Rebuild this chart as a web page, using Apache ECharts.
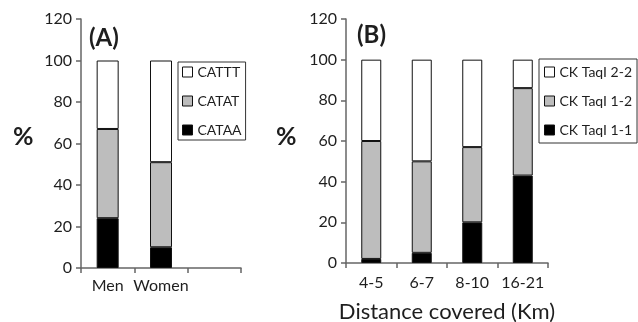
<!DOCTYPE html>
<html>
<head>
<meta charset="utf-8">
<script src="https://cdn.jsdelivr.net/npm/echarts@6/dist/echarts.min.js"></script>
<style>
  html, body { margin: 0; padding: 0; background: #fff; }
  #chart { width: 638px; height: 322px; }
</style>
</head>
<body>
<div id="chart"></div>
<script>
// panel A: genotype by sex
const catA = ['Men', 'Women', '']
const cataa = [24, 10, null]
const catat = [43, 41, null]
const cattt = [33, 49, null]

// panel B: genotype by distance covered
const catB = ['4-5', '6-7', '8-10', '16-21']
const ck11 = [2, 5, 20, 43]
const ck12 = [58, 45, 37, 43]
const ck22 = [40, 50, 43, 14]

const yTicks = [0, 20, 40, 60, 80, 100, 120]

const font = 'Lato, "Open Sans", sans-serif'
const txt = '#1e1e1e'
const axisCol = '#666'

const yAxisOpt = (grid) => ({
  type: 'value',
  gridIndex: grid,
  min: yTicks[0],
  max: yTicks[yTicks.length - 1],
  interval: 20,
  splitLine: { show: false },
  axisLine: { show: true, lineStyle: { color: axisCol, width: 1.5 } },
  axisTick: { show: true, length: 5, lineStyle: { color: axisCol, width: 1.5 } },
  axisLabel: { color: txt, fontSize: 16, fontFamily: font, margin: 9 }
})

const xAxisOpt = (grid, data, margin) => ({
  type: 'category',
  gridIndex: grid,
  data: data,
  axisLine: { lineStyle: { color: axisCol, width: 1.5 } },
  axisTick: { show: true, length: 5, lineStyle: { color: axisCol, width: 1.5 } },
  axisLabel: { color: txt, fontSize: 16, fontFamily: font, margin: margin, interval: 0 }
})

const bar = (name, data, color, grid, w) => ({
  name: name,
  type: 'bar',
  stack: 'g' + grid,
  xAxisIndex: grid,
  yAxisIndex: grid,
  barWidth: w,
  data: data,
  itemStyle: { color: color, borderColor: '#111', borderWidth: 1 },
  emphasis: { disabled: true }
})

const legendOpt = (names, pos) => Object.assign({
  orient: 'vertical',
  data: names,
  selectedMode: false,
  icon: 'rect',
  itemWidth: 10,
  itemHeight: 10,
  itemGap: 13,
  borderColor: '#333',
  borderWidth: 1,
  borderRadius: 0,
  textStyle: { color: txt, fontSize: 14, fontFamily: font, lineHeight: 16 },
  itemStyle: { borderColor: '#111', borderWidth: 1 }
}, pos)

const chart = echarts.init(document.getElementById('chart'))
chart.setOption({
  animation: false,
  backgroundColor: '#fff',
  grid: [
    { left: 81, top: 19, width: 160, height: 249, outerBoundsMode: 'none', containLabel: false },
    { left: 346, top: 19, width: 202, height: 244, outerBoundsMode: 'none', containLabel: false }
  ],
  xAxis: [
    xAxisOpt(0, catA, 10),
    Object.assign(xAxisOpt(1, catB, 12), {
      name: 'Distance covered (Km)',
      nameLocation: 'middle',
      nameGap: 38,
      nameTextStyle: { color: txt, fontSize: 22, fontFamily: font }
    })
  ],
  yAxis: [yAxisOpt(0), yAxisOpt(1)],
  legend: [
    legendOpt(['CATTT', 'CATAT', 'CATAA'], { left: 178, top: 62, padding: [2, 4, 2, 4] }),
    legendOpt(['CK TaqI 2-2', 'CK TaqI 1-2', 'CK TaqI 1-1'], { left: 539, top: 59, padding: [5, 5, 5, 5] })
  ],
  graphic: [
    { type: 'text', left: 89, top: 26, style: { text: '(A)', font: 'bold 24px ' + font, fill: txt } },
    { type: 'text', left: 357, top: 23, style: { text: '(B)', font: 'bold 24px ' + font, fill: txt } },
    { type: 'text', left: 13, top: 124, style: { text: '%', font: 'bold 25px ' + font, fill: txt } },
    { type: 'text', left: 276, top: 124, style: { text: '%', font: 'bold 25px ' + font, fill: txt } }
  ],
  series: [
    bar('CATAA', cataa, '#000', 0, 22),
    bar('CATAT', catat, '#bdbdbd', 0, 22),
    bar('CATTT', cattt, '#fff', 0, 22),
    bar('CK TaqI 1-1', ck11, '#000', 1, 20),
    bar('CK TaqI 1-2', ck12, '#bdbdbd', 1, 20),
    bar('CK TaqI 2-2', ck22, '#fff', 1, 20)
  ]
})
</script>
</body>
</html>
